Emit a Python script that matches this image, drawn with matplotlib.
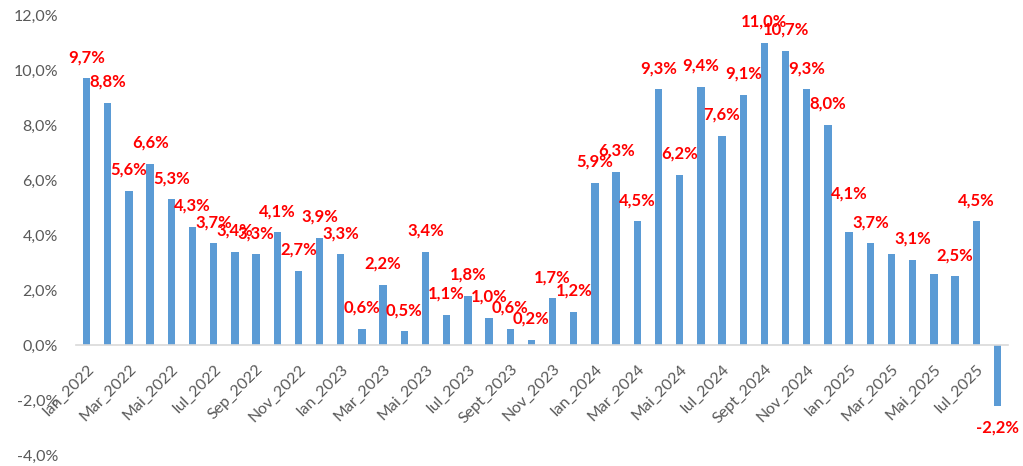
import matplotlib
matplotlib.use("Agg")
import matplotlib.pyplot as plt

# Lunile (ian 2022 - aug 2025)
months = ["Ian", "Feb", "Mar", "Apr", "Mai", "Iun", "Iul", "Aug", "Sept", "Oct", "Nov", "Dec"]
years = [2022, 2023, 2024, 2025]
categories = []
for y in years:
    for m in months:
        name = "Sep" if (m == "Sept" and y == 2022) else m
        categories.append(f"{name}_{y}")
categories = categories[:44]

values = [9.7, 8.8, 5.6, 6.6, 5.3, 4.3, 3.7, 3.4, 3.3, 4.1, 2.7, 3.9,
          3.3, 0.6, 2.2, 0.5, 3.4, 1.1, 1.8, 1.0, 0.6, 0.2, 1.7, 1.2,
          5.9, 6.3, 4.5, 9.3, 6.2, 9.4, 7.6, 9.1, 11.0, 10.7, 9.3, 8.0,
          4.1, 3.7, 3.3, 3.1, 2.6, 2.5, 4.5, -2.2]

# etichete afisate
shown = [True] * len(values)
shown[38] = False
shown[40] = False

y_ticks = [-4, -2, 0, 2, 4, 6, 8, 10, 12]

plt.rcParams['font.family'] = ['Lato', 'DejaVu Sans']

fig = plt.figure(figsize=(10.23, 4.66), dpi=100)
ax = fig.add_axes([76/1023, 11/466, (1008-76)/1023, (455-15)/466])

# axa la zero (inainte de etichete, altfel se reseteaza tick-urile)
for s in ['top', 'right', 'left']:
    ax.spines[s].set_visible(False)
ax.spines['bottom'].set_position(('data', 0))
ax.spines['bottom'].set_color('#D9D9D9')
ax.spines['bottom'].set_linewidth(1.2)

x = list(range(len(values)))
ax.bar(x, values, width=0.35, color='#5B9BD5', zorder=2)

ax.set_xlim(-0.5, len(values) - 0.5)
ax.set_ylim(-4, 12)
ax.set_yticks(y_ticks)
ax.set_yticklabels([f"{v:.1f}%".replace('.', ',') for v in y_ticks])
ax.tick_params(axis='y', length=0, pad=13, labelsize=11.5, labelcolor='#595959')

ax.set_xticks(x[::2])
ax.set_xticklabels(categories[::2], rotation=45, ha='right', va='top',
                   rotation_mode='anchor')
ax.tick_params(axis='x', length=0, pad=12, labelsize=11.5, labelcolor='#595959')

# etichete rosii
for i, v in enumerate(values):
    if not shown[i]:
        continue
    off = 21 if v >= 0 else -22
    if i == 36:
        off = 39
    ax.annotate(f"{v:.1f}%".replace('.', ','), (i, v), xytext=(0, off),
                textcoords='offset pixels', ha='center', va='center',
                color='#FF0000', fontweight='bold', fontsize=12)

fig.savefig("out.png", dpi=100)
